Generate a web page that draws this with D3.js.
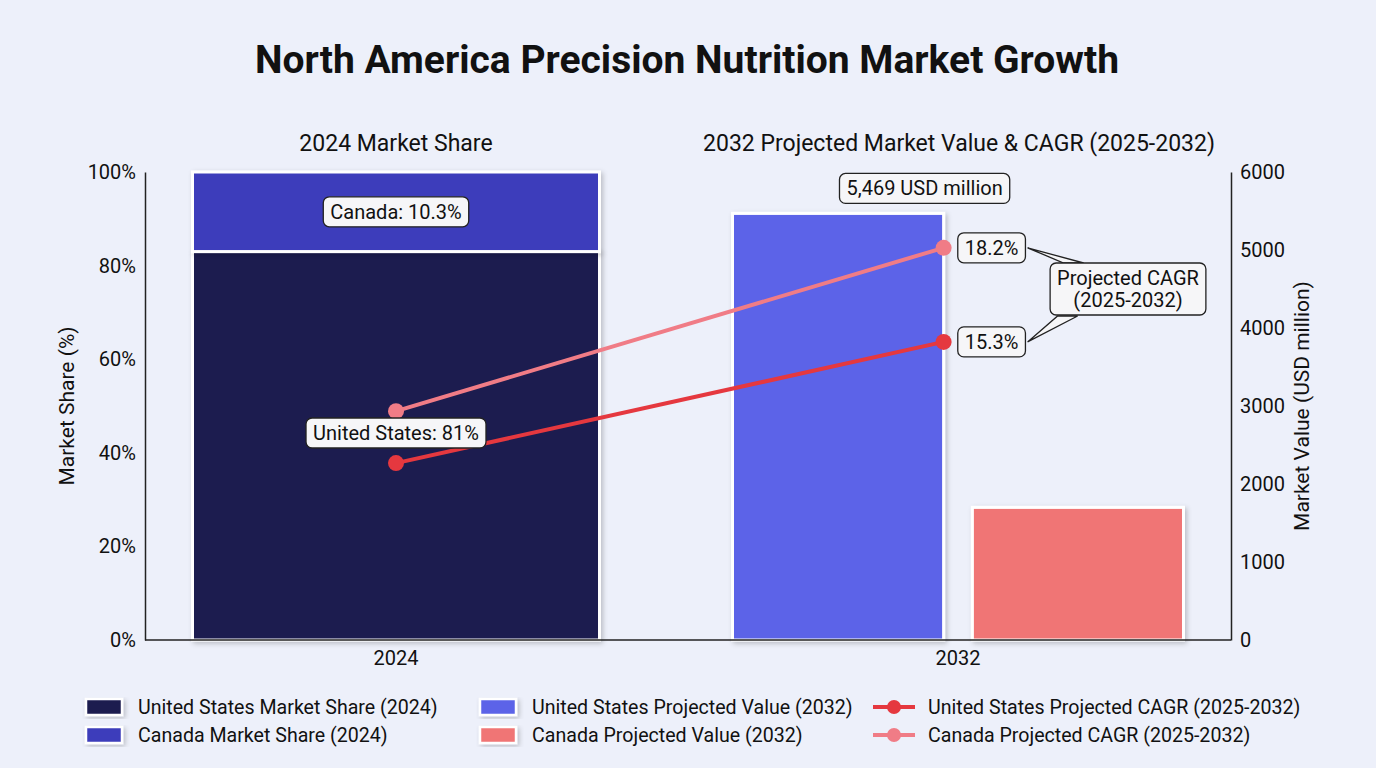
<!DOCTYPE html>
<html>
<head>
<meta charset="utf-8">
<script src="https://cdn.jsdelivr.net/npm/d3@7"></script>
<style>
  html, body { margin: 0; padding: 0; background: #edf0fa; }
  svg { display: block; font-family: Roboto, "Noto Sans", sans-serif; }
</style>
</head>
<body>
<svg id="chart" width="1376" height="768"></svg>
<script>
// data
const years = ["2024", "2032"];
const countries = ["United States", "Canada"];
const shareValues = [83, 17];            // stacked 2024 bar, % (as drawn)
const shareLabels = ["United States: 81%", "Canada: 10.3%"];
const valueValues = [5469, 1700];        // 2032 projected value, USD million
const cagrLabels = ["15.3%", "18.2%"];
const usCagrLine = [37.8, 63.7];         // position on the share axis
const caCagrLine = [48.9, 83.8];
const leftTicks = [0, 20, 40, 60, 80, 100];
const rightTicks = [0, 1000, 2000, 3000, 4000, 5000, 6000];

const shareColors = ["#1a1a4f", "#3c3cbb"];
const valueColors = ["#5b64e8", "#f07474"];
const lineColors = ["#e5383f", "#f07c86"];

const svg = d3.select("#chart");
const defs = svg.append("defs");
const shadow = defs.append("filter").attr("id", "shadow")
  .attr("x", "-10%").attr("y", "-10%").attr("width", "130%").attr("height", "130%");
shadow.append("feDropShadow").attr("dx", 2).attr("dy", 2).attr("stdDeviation", 2.5)
  .attr("flood-color", "#000").attr("flood-opacity", 0.22);

const plotLeft = 145, plotRight = 1231, plotTop = 172, plotBottom = 640;

const x = d3.scaleBand().domain(years).range([115, 1239]);
const inner = d3.scaleBand().domain(countries).range([-225.5, 225.5]).paddingInner(0.12);
const yL = d3.scaleLinear().domain([0, 100]).range([plotBottom, plotTop]);
const yR = d3.scaleLinear().domain([0, 6000]).range([plotBottom, plotTop]);
const cx = y => x(y) + x.bandwidth() / 2;

// title
svg.append("text").attr("x", 687).attr("y", 73).attr("text-anchor", "middle")
  .style("font-size", "39px").style("font-weight", "700").style("fill", "#111")
  .text("North America Precision Nutrition Market Growth");

svg.append("text").attr("x", cx("2024")).attr("y", 151).attr("text-anchor", "middle")
  .style("font-size", "23px").style("fill", "#111").text("2024 Market Share");
svg.append("text").attr("x", cx("2032") + 1).attr("y", 151).attr("text-anchor", "middle")
  .style("font-size", "23px").style("fill", "#111").text("2032 Projected Market Value & CAGR (2025-2032)");

// 2024 stacked bar
const barW = 407;
let acc = 0;
const stacked = shareValues.map((v, i) => { const d = { i, y0: acc, y1: acc + v }; acc += v; return d; });
svg.append("g").selectAll("rect").data(stacked).join("rect")
  .attr("x", cx("2024") - barW / 2)
  .attr("width", barW)
  .attr("y", d => yL(d.y1))
  .attr("height", d => yL(d.y0) - yL(d.y1))
  .attr("fill", d => shareColors[d.i])
  .attr("stroke", "#fff").attr("stroke-width", 3)
  .attr("filter", "url(#shadow)");

// 2032 grouped bars
svg.append("g").selectAll("rect").data(valueValues).join("rect")
  .attr("x", (d, i) => cx("2032") + inner(countries[i]))
  .attr("width", inner.bandwidth())
  .attr("y", d => yR(d))
  .attr("height", d => plotBottom - yR(d))
  .attr("fill", (d, i) => valueColors[i])
  .attr("stroke", "#fff").attr("stroke-width", 3)
  .attr("filter", "url(#shadow)");

// axes (lines only, no tick marks)
const axisL = svg.append("g").attr("transform", `translate(${plotLeft},0)`)
  .call(d3.axisLeft(yL).tickValues(leftTicks).tickSize(0).tickPadding(9).tickFormat(d => d + "%"));
const axisR = svg.append("g").attr("transform", `translate(${plotRight},0)`)
  .call(d3.axisRight(yR).tickValues(rightTicks).tickSize(0).tickPadding(9).tickFormat(d3.format("d")));
const axisB = svg.append("g").attr("transform", `translate(0,${plotBottom})`)
  .call(d3.axisBottom(x).tickSize(0).tickPadding(8));
axisB.select(".domain").attr("d", `M${plotLeft},0H${plotRight}`);
[axisL, axisR, axisB].forEach(a => {
  a.select(".domain").attr("stroke", "#222").attr("stroke-width", 1.5);
  a.selectAll("text").style("font-size", "20px").style("fill", "#111")
    .style("font-family", "Roboto, sans-serif");
});
axisB.selectAll(".tick text").attr("dy", "0.85em");

svg.append("text").attr("transform", `translate(74,${(plotTop + plotBottom) / 2}) rotate(-90)`)
  .attr("text-anchor", "middle").style("font-size", "21px").style("fill", "#111")
  .text("Market Share (%)");
svg.append("text").attr("transform", `translate(1309,${(plotTop + plotBottom) / 2}) rotate(-90)`)
  .attr("text-anchor", "middle").style("font-size", "21px").style("fill", "#111")
  .text("Market Value (USD million)");

// CAGR lines
const x2032pt = cx("2032") + inner("United States") + inner.bandwidth();
const lineX = [cx("2024"), x2032pt];
const line = d3.line().x((d, i) => lineX[i]).y(d => yL(d));
[caCagrLine, usCagrLine].forEach((series, k) => {
  const col = k === 0 ? lineColors[1] : lineColors[0];
  svg.append("path").datum(series).attr("d", line)
    .attr("fill", "none").attr("stroke", col).attr("stroke-width", 4);
  svg.append("g").selectAll("circle").data(series).join("circle")
    .attr("cx", (d, i) => lineX[i]).attr("cy", d => yL(d)).attr("r", 8).attr("fill", col);
});

// label boxes
function labelBox(cxp, cyp, lines, fs) {
  const g = svg.append("g");
  const t = g.append("text").attr("text-anchor", "middle")
    .style("font-size", fs + "px").style("fill", "#111");
  lines.forEach((s, i) => t.append("tspan").attr("x", cxp)
    .attr("y", cyp + (i - (lines.length - 1) / 2) * (fs + 2)).attr("dy", "0.35em").text(s));
  const b = t.node().getBBox();
  g.insert("rect", "text")
    .attr("x", b.x - 7).attr("y", b.y - 3).attr("width", b.width + 14).attr("height", b.height + 6)
    .attr("rx", 6).attr("fill", "#f6f6f8").attr("stroke", "#222").attr("stroke-width", 1.3);
  return g;
}

labelBox(cx("2024"), (yL(stacked[1].y0) + yL(stacked[1].y1)) / 2, [shareLabels[1]], 20);
labelBox(cx("2024"), 433, [shareLabels[0]], 20);
labelBox(x2032pt - 19, yR(valueValues[0]) - 25,
  [d3.format(",")(valueValues[0]) + " USD million"], 20);

// callout pointers for CAGR
const callout = svg.append("g");
const bx = x2032pt + 48;
callout.append("path")
  .attr("d", `M${bx + 36},${yL(caCagrLine[1])} L${bx + 72},263 L${bx + 92},263 Z`)
  .attr("fill", "#f6f6f8").attr("stroke", "#222").attr("stroke-width", 1.3);
callout.append("path")
  .attr("d", `M${bx + 36},${yL(usCagrLine[1])} L${bx + 66},316 L${bx + 86},316 Z`)
  .attr("fill", "#f6f6f8").attr("stroke", "#222").attr("stroke-width", 1.3);
labelBox(1128, 289, ["Projected CAGR", "(2025-2032)"], 20);
labelBox(bx, yL(caCagrLine[1]), [cagrLabels[1]], 20);
labelBox(bx, yL(usCagrLine[1]), [cagrLabels[0]], 20);

// legend
const legendItems = [
  { label: "United States Market Share (2024)", color: shareColors[0], type: "rect" },
  { label: "Canada Market Share (2024)", color: shareColors[1], type: "rect" },
  { label: "United States Projected Value (2032)", color: valueColors[0], type: "rect" },
  { label: "Canada Projected Value (2032)", color: valueColors[1], type: "rect" },
  { label: "United States Projected CAGR (2025-2032)", color: lineColors[0], type: "line" },
  { label: "Canada Projected CAGR (2025-2032)", color: lineColors[1], type: "line" }
];
const colX = [86, 480, 873];
const legend = svg.append("g").selectAll("g").data(legendItems).join("g")
  .attr("transform", (d, i) => `translate(${colX[Math.floor(i / 2)]},${707 + (i % 2) * 28})`);
legend.filter(d => d.type === "rect").append("rect")
  .attr("x", 0).attr("y", -8).attr("width", 36).attr("height", 16)
  .attr("fill", d => d.color).attr("stroke", "#fff").attr("stroke-width", 2.5)
  .attr("filter", "url(#shadow)");
legend.filter(d => d.type === "line").append("line")
  .attr("x1", 0).attr("x2", 42).attr("y1", 0).attr("y2", 0)
  .attr("stroke", d => d.color).attr("stroke-width", 4);
legend.filter(d => d.type === "line").append("circle")
  .attr("cx", 21).attr("cy", 0).attr("r", 7).attr("fill", d => d.color);
legend.append("text")
  .attr("x", d => d.type === "line" ? 55 : 52).attr("dy", "0.35em")
  .style("font-size", "19.6px").style("fill", "#111").text(d => d.label);
</script>
</body>
</html>
